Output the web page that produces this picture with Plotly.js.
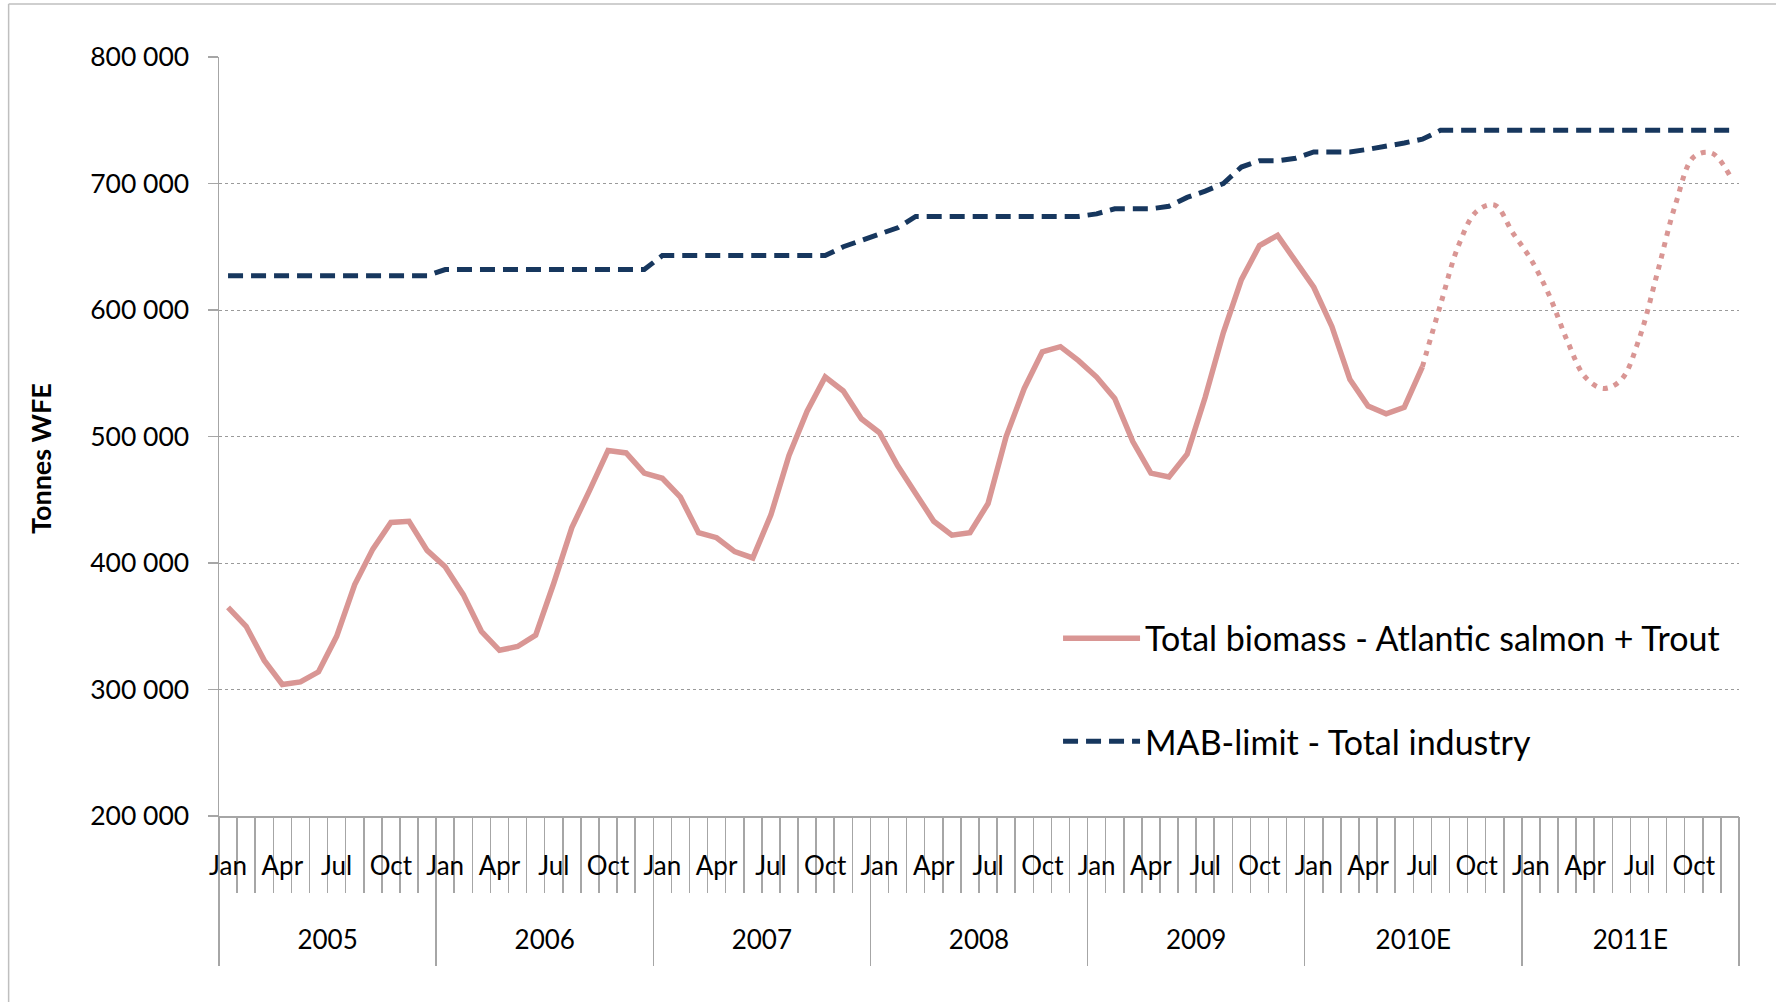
<!DOCTYPE html>
<html>
<head>
<meta charset="utf-8">
<script src="https://cdn.plot.ly/plotly-3.0.1.min.js"></script>
<style>
  html, body { margin: 0; padding: 0; background: #ffffff; }
  #chart { width: 1776px; height: 1002px; }
</style>
</head>
<body>
<div id="chart"></div>
<script>
// ---- data ----
var years = ['2005', '2006', '2007', '2008', '2009', '2010E', '2011E'];
var monthNames = ['Jan', 'Feb', 'Mar', 'Apr', 'May', 'Jun', 'Jul', 'Aug', 'Sep', 'Oct', 'Nov', 'Dec'];
var monthLabelShown = ['Jan', 'Apr', 'Jul', 'Oct'];

// Total biomass (actual), Jan 2005 .. Jul 2010
var biomassActual = [
  365000, 350000, 323000, 304000, 306000, 314000, 342000, 383000, 411000, 432000, 433000, 410000,
  397000, 375000, 346000, 331000, 334000, 343000, 384000, 428000, 458000, 489000, 487000, 471000,
  467000, 452000, 424000, 420000, 409000, 404000, 438000, 485000, 520000, 547000, 536000, 514000,
  503000, 477000, 455000, 433000, 422000, 424000, 447000, 500000, 538000, 567000, 571000, 560000,
  547000, 530000, 496000, 471000, 468000, 486000, 531000, 582000, 624000, 651000, 659000, 638000,
  618000, 587000, 545000, 524000, 518000, 523000, 555000
];
// Total biomass (estimate), Jul 2010 .. Dec 2011
var biomassEstimate = [
  555000, 604000, 651000, 678000, 683000, 661000,
  640000, 612000, 576000, 547000, 538000, 545000, 578000, 630000, 684000, 721000, 724000, 706000
];
// MAB-limit, Jan 2005 .. Dec 2011
var mabLimit = [
  627000, 627000, 627000, 627000, 627000, 627000, 627000, 627000, 627000, 627000, 627000, 627000,
  632000, 632000, 632000, 632000, 632000, 632000, 632000, 632000, 632000, 632000, 632000, 632000,
  643000, 643000, 643000, 643000, 643000, 643000, 643000, 643000, 643000, 643000, 650000, 655000,
  659000, 665000, 674000, 674000, 674000, 674000, 674000, 674000, 674000, 674000, 674000, 674000,
  676000, 680000, 680000, 680000, 682000, 689000, 694000, 700000, 713000, 718000, 718000, 720000,
  725000, 725000, 725000, 727000, 729000, 732000, 735000, 742000, 742000, 742000, 742000, 742000,
  742000, 742000, 742000, 742000, 742000, 742000, 742000, 742000, 742000, 742000, 742000, 742000
];
var seriesNames = ['Total biomass - Atlantic salmon + Trout', 'MAB-limit - Total industry'];
var yTitle = 'Tonnes WFE';

// ---- derived category positions ----
var nMonths = years.length * monthNames.length;
var idx = [];
for (var i = 0; i < nMonths; i++) idx.push(i);
var xActual = idx.slice(0, biomassActual.length);
var estStart = biomassActual.length - 1;
var xEstimate = idx.slice(estStart, estStart + biomassEstimate.length);

var monthBoundaries = [];
for (var b = 1; b < nMonths; b++) monthBoundaries.push(b - 0.5);
var yearBoundaries = [];
for (var yb = 0; yb <= years.length; yb++) yearBoundaries.push(yb * 12 - 0.5);
var monthLabelVals = [], monthLabelText = [];
idx.forEach(function (k) {
  var m = monthNames[k % 12];
  if (monthLabelShown.indexOf(m) >= 0) { monthLabelVals.push(k); monthLabelText.push(m); }
});
var yearCenters = years.map(function (y, j) { return j * 12 + 5.5; });

var pink = '#D99694';
var navy = '#17375E';
var grey = '#A6A6A6';
var FONT = 'Lato, "Open Sans", sans-serif';
var xr = [-0.5, nMonths - 0.5];

// helper (empty) traces so that the overlaid category axes are drawn
function axisHolder(ax) {
  return { x: [], y: [], type: 'scatter', mode: 'lines', xaxis: ax, yaxis: 'y',
           showlegend: false, hoverinfo: 'skip' };
}

var traces = [
  {
    x: xActual, y: biomassActual, type: 'scatter', mode: 'lines',
    name: seriesNames[0], legendgroup: 'a',
    line: { color: pink, width: 5.5 }
  },
  {
    x: xEstimate, y: biomassEstimate, type: 'scatter', mode: 'lines',
    name: seriesNames[0] + ' (E)', showlegend: false, legendgroup: 'a',
    line: { color: pink, width: 5, dash: '5px,6.5px', shape: 'spline', smoothing: 1 }
  },
  {
    x: idx, y: mabLimit, type: 'scatter', mode: 'lines',
    name: seriesNames[1], legendgroup: 'b',
    line: { color: navy, width: 5, dash: '15px,8px' }
  },
  axisHolder('x2'), axisHolder('x3'), axisHolder('x4')
];

var layout = {
  width: 1776, height: 1002,
  margin: { l: 218.7, r: 37, t: 57.3, b: 186, autoexpand: false },
  paper_bgcolor: '#ffffff', plot_bgcolor: '#ffffff',
  font: { family: FONT, size: 26, color: '#000000' },
  separators: '. ',
  showlegend: true,
  legend: {
    x: 0.552, y: 0.272, xanchor: 'left', yanchor: 'top',
    bgcolor: 'rgba(0,0,0,0)', borderwidth: 0,
    font: { family: FONT, size: 34, color: '#000000' },
    itemwidth: 77, traceorder: 'grouped', tracegroupgap: 56
  },
  yaxis: {
    range: [200000, 800000], dtick: 100000, tick0: 0,
    tickformat: ',d',
    showgrid: true, gridcolor: '#9a9a9a', gridwidth: 1, griddash: 'dot',
    zeroline: false,
    showline: true, linecolor: grey, linewidth: 1.5,
    ticks: 'outside', ticklen: 10, tickcolor: grey, tickwidth: 1.5,
    ticklabelstandoff: 13,
    tickfont: { family: FONT, size: 26.5, color: '#000000' },
    fixedrange: true
  },
  xaxis: {
    range: xr, type: 'linear',
    tickmode: 'array', tickvals: monthBoundaries, showticklabels: false,
    ticks: 'outside', ticklen: 75, tickcolor: grey, tickwidth: 1.5,
    showgrid: false, zeroline: false,
    showline: true, linecolor: grey, linewidth: 1.5,
    fixedrange: true
  },
  xaxis2: {
    overlaying: 'x', anchor: 'y', side: 'bottom', range: xr, type: 'linear',
    tickmode: 'array', tickvals: yearBoundaries, showticklabels: false,
    ticks: 'outside', ticklen: 149, tickcolor: grey, tickwidth: 1.5,
    showgrid: false, zeroline: false, showline: false, fixedrange: true
  },
  xaxis3: {
    overlaying: 'x', anchor: 'y', side: 'bottom', range: xr, type: 'linear',
    tickmode: 'array', tickvals: monthLabelVals, ticktext: monthLabelText,
    ticks: '', ticklabelstandoff: 32,
    tickfont: { family: FONT, size: 26, color: '#000000' },
    showgrid: false, zeroline: false, showline: false, fixedrange: true
  },
  xaxis4: {
    overlaying: 'x', anchor: 'y', side: 'bottom', range: xr, type: 'linear',
    tickmode: 'array', tickvals: yearCenters, ticktext: years,
    ticks: '', ticklabelstandoff: 106,
    tickfont: { family: FONT, size: 26, color: '#000000' },
    showgrid: false, zeroline: false, showline: false, fixedrange: true
  },
  annotations: [
    { text: '<b>' + yTitle + '</b>', xref: 'paper', yref: 'paper', x: -0.117, y: 0.4705,
      xanchor: 'center', yanchor: 'middle', textangle: -90, showarrow: false,
      font: { family: FONT, size: 27, color: '#000000' } }
  ],
  shapes: [
    { type: 'line', xref: 'paper', yref: 'paper', x0: -0.1384, x1: -0.1384, y0: 1.0699, y1: -0.25,
      line: { color: '#BFBFBF', width: 1.5 } },
    { type: 'line', xref: 'paper', yref: 'paper', x0: -0.1384, x1: 1.03, y0: 1.0699, y1: 1.0699,
      line: { color: '#BFBFBF', width: 1.5 } }
  ]
};

Plotly.newPlot('chart', traces, layout, { displayModeBar: false, staticPlot: true });
</script>
</body>
</html>
